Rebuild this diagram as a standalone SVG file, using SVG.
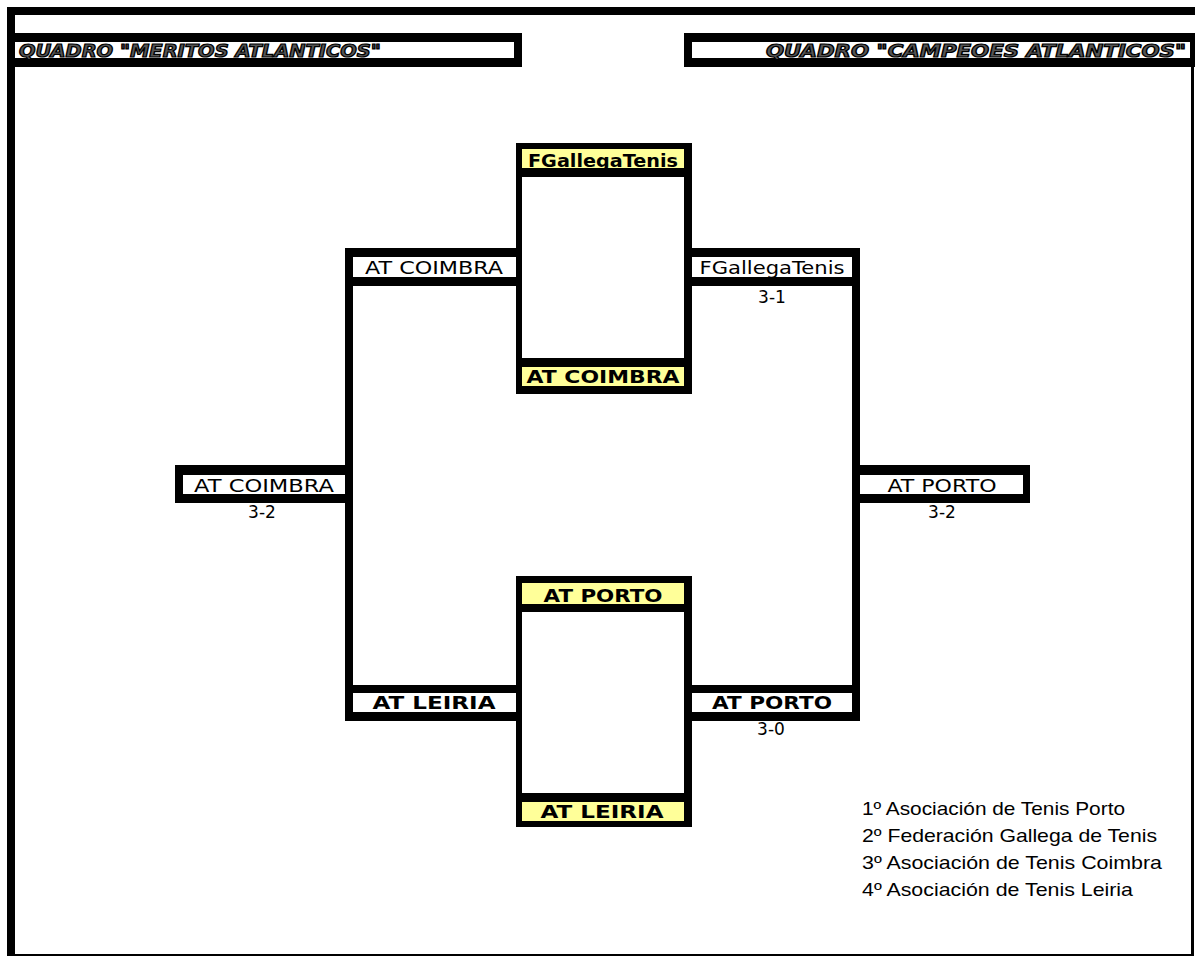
<svg xmlns="http://www.w3.org/2000/svg" width="1195" height="956" viewBox="0 0 1195 956">
<style>
.blk{fill:#000}
.wht{fill:#fff}
.yel{fill:#ffff99}
.lbl{font-family:"DejaVu Sans",Verdana,sans-serif;font-size:17px;fill:#000;text-anchor:middle}
.b{font-weight:bold}
.score{font-family:"DejaVu Sans",Verdana,sans-serif;font-size:17px;fill:#000;text-anchor:middle}
.hdr{font-family:"DejaVu Sans",Verdana,sans-serif;font-size:17px;font-weight:bold;font-style:italic;fill:#555;stroke:#000;stroke-width:1.2}
.leg{font-family:"Liberation Sans",Arial,sans-serif;font-size:18.5px;fill:#000}
</style>
<rect width="1195" height="956" fill="#fff"/>
<g id="frame">
<rect class="blk" x="7" y="7" width="1188" height="8"/>
<rect class="blk" x="7" y="7" width="8" height="949"/>
<rect class="blk" x="1191" y="67" width="3" height="889"/>
<rect class="blk" x="15" y="954" width="1178" height="2"/>
</g>
<g id="header-left">
<rect class="blk" x="7" y="33" width="515" height="34"/>
<rect class="wht" x="15" y="42" width="499" height="16"/>
<text class="hdr" x="19" y="57" textLength="362" lengthAdjust="spacingAndGlyphs">QUADRO "MERITOS ATLANTICOS"</text>
</g>
<g id="header-right">
<rect class="blk" x="684" y="33" width="511" height="34"/>
<rect class="wht" x="692" y="42" width="498" height="16"/>
<text class="hdr" x="766" y="57" textLength="420" lengthAdjust="spacingAndGlyphs">QUADRO "CAMPEOES ATLANTICOS"</text>
</g>
<g id="connectors">
<rect class="blk" x="345" y="248" width="8" height="473"/>
<rect class="blk" x="852" y="248" width="8" height="473"/>
</g>
<g id="final-top">
<rect class="blk" x="516" y="143" width="176" height="251"/>
<rect class="yel" x="522" y="149" width="162" height="19"/>
<rect class="wht" x="522" y="177" width="162" height="181"/>
<rect class="yel" x="522" y="367" width="162" height="19"/>
<text class="lbl b" x="603" y="167" textLength="150" lengthAdjust="spacingAndGlyphs">FGallegaTenis</text>
<text class="lbl b" x="603" y="383" textLength="153" lengthAdjust="spacingAndGlyphs">AT COIMBRA</text>
</g>
<g id="final-bottom">
<rect class="blk" x="516" y="576" width="176" height="251"/>
<rect class="yel" x="522" y="583" width="162" height="21"/>
<rect class="wht" x="522" y="612" width="162" height="181"/>
<rect class="yel" x="522" y="802" width="162" height="19"/>
<text class="lbl b" x="603" y="602" textLength="119" lengthAdjust="spacingAndGlyphs">AT PORTO</text>
<text class="lbl b" x="602" y="818" textLength="123" lengthAdjust="spacingAndGlyphs">AT LEIRIA</text>
</g>
<g id="semi-top-left">
<rect class="blk" x="345" y="248" width="171" height="38"/>
<rect class="wht" x="353" y="257" width="163" height="20"/>
<text class="lbl" x="434" y="274" textLength="138" lengthAdjust="spacingAndGlyphs">AT COIMBRA</text>
</g>
<g id="semi-top-right">
<rect class="blk" x="692" y="248" width="168" height="38"/>
<rect class="wht" x="692" y="257" width="160" height="20"/>
<text class="lbl" x="772" y="274" textLength="145" lengthAdjust="spacingAndGlyphs">FGallegaTenis</text>
<text class="score" x="772" y="303">3-1</text>
</g>
<g id="semi-bottom-left">
<rect class="blk" x="345" y="685" width="171" height="36"/>
<rect class="wht" x="353" y="693" width="163" height="19"/>
<text class="lbl b" x="434" y="709" textLength="123" lengthAdjust="spacingAndGlyphs">AT LEIRIA</text>
</g>
<g id="semi-bottom-right">
<rect class="blk" x="692" y="685" width="168" height="36"/>
<rect class="wht" x="692" y="693" width="160" height="19"/>
<text class="lbl b" x="772" y="709" textLength="120" lengthAdjust="spacingAndGlyphs">AT PORTO</text>
<text class="score" x="771" y="735">3-0</text>
</g>
<g id="mid-left">
<rect class="blk" x="175" y="465" width="178" height="38"/>
<rect class="wht" x="183" y="475" width="162" height="19"/>
<text class="lbl" x="264" y="492" textLength="140" lengthAdjust="spacingAndGlyphs">AT COIMBRA</text>
<text class="score" x="262" y="518">3-2</text>
</g>
<g id="mid-right">
<rect class="blk" x="852" y="465" width="178" height="38"/>
<rect class="wht" x="860" y="475" width="163" height="19"/>
<text class="lbl" x="942" y="492" textLength="109" lengthAdjust="spacingAndGlyphs">AT PORTO</text>
<text class="score" x="942" y="518">3-2</text>
</g>
<g id="legend">
<text class="leg" x="862" y="815" textLength="263" lengthAdjust="spacingAndGlyphs">1º Asociación de Tenis Porto</text>
<text class="leg" x="862" y="842" textLength="295" lengthAdjust="spacingAndGlyphs">2º Federación Gallega de Tenis</text>
<text class="leg" x="862" y="869" textLength="300" lengthAdjust="spacingAndGlyphs">3º Asociación de Tenis Coimbra</text>
<text class="leg" x="862" y="896" textLength="271" lengthAdjust="spacingAndGlyphs">4º Asociación de Tenis Leiria</text>
</g>
</svg>
